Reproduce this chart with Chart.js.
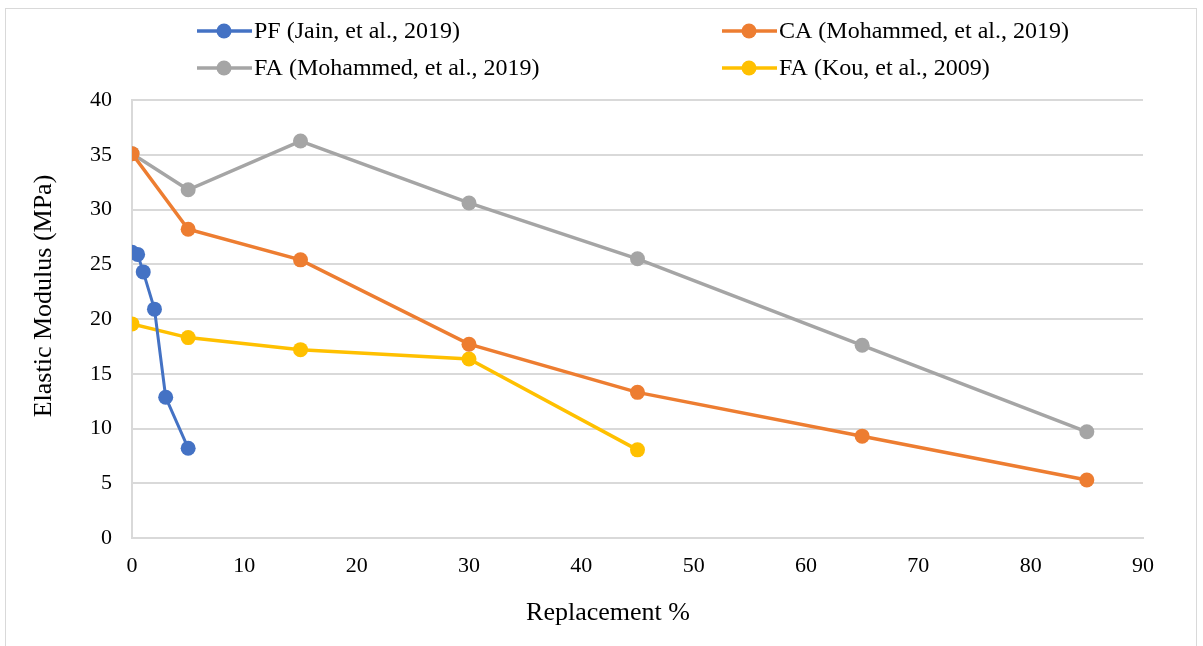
<!DOCTYPE html>
<html>
<head>
<meta charset="utf-8">
<script src="https://cdn.jsdelivr.net/npm/chart.js@4/dist/chart.umd.min.js"></script>
<style>
  html, body { margin: 0; padding: 0; background: #fff; }
  #wrap { width: 1203px; height: 646px; position: relative; }
</style>
</head>
<body>
<div id="wrap"><canvas id="chart" width="1203" height="646"></canvas></div>
<script>
// Replacement % (x) and elastic modulus in MPa (y) for each study
const pfX = [0, 0.5, 1, 2, 3, 5];
const pfY = [26.1, 25.9, 24.3, 20.9, 12.85, 8.2];

const caX = [0, 5, 15, 30, 45, 65, 85];
const caY = [35.1, 28.2, 25.4, 17.7, 13.3, 9.3, 5.3];

const faMX = [0, 5, 15, 30, 45, 65, 85];
const faMY = [35.1, 31.8, 36.25, 30.6, 25.5, 17.6, 9.7];

const faKX = [0, 5, 15, 30, 45];
const faKY = [19.55, 18.3, 17.2, 16.35, 8.05];

const seriesNames = [
  'PF (Jain, et al., 2019)',
  'CA (Mohammed, et al., 2019)',
  'FA (Mohammed, et al., 2019)',
  'FA (Kou, et al., 2009)'
];
const seriesColors = ['#4472C4', '#ED7D31', '#A5A5A5', '#FFC000'];
const seriesWidths = [3, 3.5, 3.5, 3.5];

const xTicks = [0, 10, 20, 30, 40, 50, 60, 70, 80, 90];
const yTicks = [0, 5, 10, 15, 20, 25, 30, 35, 40];

const xTitle = 'Replacement %';
const yTitle = 'Elastic Modulus (MPa)';

const FONT = '"Liberation Serif", "Times New Roman", serif';

function pts(xs, ys) { return xs.map((x, i) => ({ x: x, y: ys[i] })); }

function makeSet(i, xs, ys) {
  return {
    label: seriesNames[i],
    data: pts(xs, ys),
    borderColor: seriesColors[i],
    backgroundColor: seriesColors[i],
    borderWidth: seriesWidths[i],
    pointRadius: 7.5,
    pointHoverRadius: 7.5,
    pointBorderWidth: 0,
    tension: 0
  };
}

// Outer frame around the whole figure
const framePlugin = {
  id: 'frame',
  beforeDraw(chart) {
    const c = chart.ctx;
    c.save();
    c.fillStyle = '#fff';
    c.fillRect(0, 0, chart.width, chart.height);
    c.strokeStyle = '#d9d9d9';
    c.lineWidth = 1;
    c.strokeRect(5.5, 8.5, 1191, 700);
    c.restore();
  }
};

// Two-column legend above the plot
const legendPlugin = {
  id: 'gridLegend',
  afterDraw(chart) {
    const c = chart.ctx;
    const cols = [197, 722];
    const rows = [31, 68];
    c.save();
    c.font = '24px ' + FONT;
    c.textBaseline = 'middle';
    c.textAlign = 'left';
    chart.data.datasets.forEach((ds, i) => {
      const x = cols[i % 2];
      const y = rows[Math.floor(i / 2)];
      c.strokeStyle = ds.borderColor;
      c.lineWidth = 3.5;
      c.beginPath();
      c.moveTo(x, y);
      c.lineTo(x + 55, y);
      c.stroke();
      c.fillStyle = ds.borderColor;
      c.beginPath();
      c.arc(x + 27, y, 7.5, 0, Math.PI * 2);
      c.fill();
      c.fillStyle = '#000';
      c.fillText(ds.label, x + 57, y + 1);
    });
    c.restore();
  }
};

// Axis titles, placed like the original figure (slightly off the plot centre)
const axisTitlePlugin = {
  id: 'axisTitles',
  afterDraw(chart) {
    const c = chart.ctx;
    c.save();
    c.font = '26px ' + FONT;
    c.fillStyle = '#000';
    c.textAlign = 'center';
    c.textBaseline = 'middle';
    c.fillText(xTitle, 608, 613);
    c.translate(44, 296);
    c.rotate(-Math.PI / 2);
    c.fillText(yTitle, 0, 0);
    c.restore();
  }
};

new Chart(document.getElementById('chart'), {
  type: 'line',
  data: {
    datasets: [
      makeSet(0, pfX, pfY),
      makeSet(1, caX, caY),
      makeSet(2, faMX, faMY),
      makeSet(3, faKX, faKY)
    ]
  },
  options: {
    responsive: false,
    animation: false,
    events: [],
    layout: { padding: { top: 100, right: 60, left: 0, bottom: 0 } },
    plugins: {
      legend: { display: false },
      tooltip: { enabled: false }
    },
    scales: {
      x: {
        type: 'linear',
        min: 0,
        max: 90,
        afterBuildTicks(scale) { scale.ticks = xTicks.map(v => ({ value: v })); },
        afterFit(scale) { scale.height = 646 - 538; },
        grid: { display: false, drawTicks: false },
        border: { display: true, color: '#d9d9d9', width: 2 },
        ticks: { color: '#000', padding: 15, maxRotation: 0, font: { family: FONT, size: 22 } },
        title: { display: false }
      },
      y: {
        min: 0,
        max: 40,
        afterBuildTicks(scale) { scale.ticks = yTicks.map(v => ({ value: v })); },
        afterFit(scale) { scale.width = 132; },
        grid: { color: '#d9d9d9', lineWidth: 2, drawTicks: false },
        border: { display: true, color: '#d9d9d9', width: 2 },
        ticks: { color: '#000', padding: 20, font: { family: FONT, size: 22 } },
        title: { display: false }
      }
    }
  },
  plugins: [framePlugin, legendPlugin, axisTitlePlugin]
});
</script>
</body>
</html>
